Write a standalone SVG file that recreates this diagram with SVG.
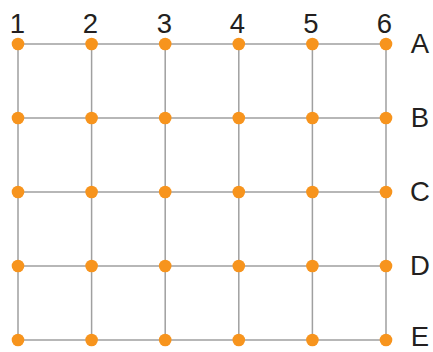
<svg xmlns="http://www.w3.org/2000/svg" width="433" height="352" viewBox="0 0 433 352">
<style>
.ln{stroke:#a0a0a0;stroke-width:1.5;fill:none}
.dot{fill:#f7941d}
.lb{font-family:"Liberation Sans",Arial,sans-serif;font-size:27.5px;fill:#231f20}
</style>
<rect width="433" height="352" fill="#fff"/>
<g id="connectors" class="ln">
<path d="M18 44H386M18 118H386M18 192H386M18 266H386M18 340H386"/>
<path d="M18 44V340M91.6 44V340M165.2 44V340M238.8 44V340M312.4 44V340M386 44V340"/>
</g>
<g id="labels" class="lb">
<text x="17.5" y="32.5" text-anchor="middle">1</text>
<text x="90.5" y="32.5" text-anchor="middle">2</text>
<text x="164.5" y="32.5" text-anchor="middle">3</text>
<text x="237.5" y="32.5" text-anchor="middle">4</text>
<text x="311" y="32.5" text-anchor="middle">5</text>
<text x="384.5" y="32.5" text-anchor="middle">6</text>
<text x="420" y="53" text-anchor="middle">A</text>
<text x="420" y="127" text-anchor="middle">B</text>
<text x="420" y="201" text-anchor="middle">C</text>
<text x="420" y="275" text-anchor="middle">D</text>
<text x="420" y="346" text-anchor="middle">E</text>
</g>
<g id="nodes" class="dot">
<g id="rowA"><circle cx="18" cy="44" r="6.3"/><circle cx="91.6" cy="44" r="6.3"/><circle cx="165.2" cy="44" r="6.3"/><circle cx="238.8" cy="44" r="6.3"/><circle cx="312.4" cy="44" r="6.3"/><circle cx="386" cy="44" r="6.3"/></g>
<g id="rowB"><circle cx="18" cy="118" r="6.3"/><circle cx="91.6" cy="118" r="6.3"/><circle cx="165.2" cy="118" r="6.3"/><circle cx="238.8" cy="118" r="6.3"/><circle cx="312.4" cy="118" r="6.3"/><circle cx="386" cy="118" r="6.3"/></g>
<g id="rowC"><circle cx="18" cy="192" r="6.3"/><circle cx="91.6" cy="192" r="6.3"/><circle cx="165.2" cy="192" r="6.3"/><circle cx="238.8" cy="192" r="6.3"/><circle cx="312.4" cy="192" r="6.3"/><circle cx="386" cy="192" r="6.3"/></g>
<g id="rowD"><circle cx="18" cy="266" r="6.3"/><circle cx="91.6" cy="266" r="6.3"/><circle cx="165.2" cy="266" r="6.3"/><circle cx="238.8" cy="266" r="6.3"/><circle cx="312.4" cy="266" r="6.3"/><circle cx="386" cy="266" r="6.3"/></g>
<g id="rowE"><circle cx="18" cy="340" r="6.3"/><circle cx="91.6" cy="340" r="6.3"/><circle cx="165.2" cy="340" r="6.3"/><circle cx="238.8" cy="340" r="6.3"/><circle cx="312.4" cy="340" r="6.3"/><circle cx="386" cy="340" r="6.3"/></g>
</g>
</svg>
